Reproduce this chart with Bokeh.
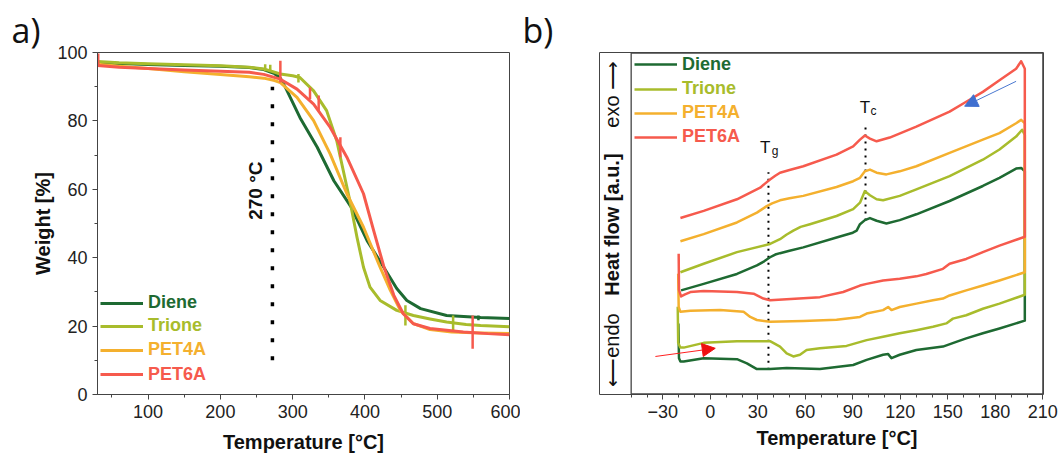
from math import pi
from bokeh.plotting import figure
from bokeh.models import (Range1d, FixedTicker, Label, Legend, LegendItem, Arrow, NormalHead, Title)
from bokeh.layouts import row
from bokeh.embed import file_html
from bokeh.resources import INLINE

SERIES = ["Diene", "Trione", "PET4A", "PET6A"]
COLORS = {"Diene": "#1e6a32", "Trione": "#a8bc2c", "PET4A": "#f4b02e", "PET6A": "#f65a4d"}

# ---------------- a) TGA : temperature [°C] / weight [%] ----------------
tga_diene_T = [30, 60, 100, 150, 200, 240, 260, 275, 283, 290, 311, 334, 357, 381, 403, 426, 444, 458, 477, 513, 560, 600]
tga_diene_W = [97.1, 96.8, 96.5, 96.2, 96.0, 95.6, 95.0, 93.8, 92.5, 89.8, 80.6, 72.3, 62.5, 54.8, 45.0, 37.2, 31.0, 27.5, 25.1, 23.1, 22.5, 22.2]
tga_trione_T = [30, 60, 100, 150, 200, 240, 260, 283, 300, 310, 329, 347, 361, 370, 380, 389, 398, 407, 421, 444, 467, 490, 513, 540, 560, 600]
tga_trione_W = [97.4, 97.0, 96.7, 96.4, 96.1, 95.7, 95.2, 93.7, 93.2, 92.7, 88.8, 83.0, 74.2, 65.5, 55.8, 46.0, 37.2, 31.4, 27.5, 24.6, 23.1, 22.1, 21.2, 20.5, 20.2, 19.8]
tga_pet4a_T = [30, 60, 100, 150, 200, 240, 260, 275, 283, 306, 329, 352, 375, 398, 421, 435, 449, 467, 490, 520, 560, 600]
tga_pet4a_W = [96.6, 96.0, 95.3, 94.4, 93.6, 92.9, 92.5, 91.8, 91.2, 86.9, 80.1, 70.3, 58.7, 48.9, 37.2, 30.5, 24.6, 20.7, 19.0, 18.3, 18.0, 17.8]
tga_pet6a_T = [30, 60, 100, 150, 200, 240, 260, 283, 306, 329, 352, 375, 398, 412, 426, 440, 453, 467, 490, 536, 570, 600]
tga_pet6a_W = [96.2, 95.7, 95.3, 94.9, 94.5, 94.2, 93.6, 92.2, 89.3, 84.9, 78.1, 69.4, 58.7, 48.0, 37.5, 29.0, 23.6, 20.7, 19.3, 18.3, 17.8, 17.5]

# short vertical artefacts on the TGA traces
spike_series = ["PET6A", "Trione", "Trione", "PET6A", "Trione", "PET6A", "PET6A", "PET6A", "Trione", "Trione", "PET6A", "Diene"]
spike_T = [31, 262, 269, 283, 308, 324, 336, 366, 456, 522, 549, 557]
spike_lo = [96.1, 94.5, 94.3, 91.2, 91.2, 86.4, 83.0, 69.4, 20.2, 18.8, 13.4, 21.7]
spike_hi = [99.7, 96.6, 96.4, 97.6, 93.7, 89.8, 87.4, 75.2, 26.1, 23.1, 23.1, 23.1]

onset_T = 272
onset_label = "270 °C"

# ---------------- b) DSC : temperature [°C] / heat flow [a.u.] ----------------
dsc_heat = {
    "Diene": ([-20.2, -19.8, -18.9, -16.8, -4.2, 16.8, 23.1, 29.4, 37.7, 48.2, 69.2, 90.2, 98.7, 109.1, 112.3, 114.4, 119.6, 130.1, 146.9, 155.3, 161.6, 172.1, 182.6, 198.6],
              [20.7, 10.5, 9.5, 9.5, 10.5, 10.2, 9.0, 7.3, 7.3, 7.6, 7.3, 8.5, 10.0, 11.5, 11.7, 10.5, 11.5, 12.9, 13.9, 15.3, 16.3, 17.8, 19.2, 21.5]),
    "Trione": ([-20.6, -20.3, -19.0, -16.8, -4.2, 16.8, 37.7, 44.0, 48.2, 52.4, 56.6, 60.8, 69.2, 86.0, 98.7, 109.1, 119.6, 130.1, 140.6, 149.0, 153.2, 161.6, 172.1, 182.6, 198.6],
               [25.6, 15.0, 13.6, 13.6, 15.0, 15.5, 15.5, 13.9, 11.9, 11.0, 11.5, 12.9, 13.4, 14.1, 15.8, 16.8, 17.8, 18.7, 19.7, 20.7, 22.1, 23.1, 25.0, 26.5, 29.1]),
    "PET4A": ([-20.3, -20.0, -18.9, -12.6, 6.2, 21.0, 25.2, 29.4, 37.7, 58.7, 79.7, 94.5, 98.7, 109.1, 112.3, 114.4, 119.6, 130.1, 140.6, 146.9, 151.1, 161.6, 172.1, 182.6, 198.6],
              [35.3, 25.5, 24.1, 24.4, 24.6, 24.1, 22.6, 21.7, 21.2, 21.4, 21.8, 22.6, 23.6, 24.6, 25.5, 24.6, 25.5, 26.5, 27.5, 28.0, 28.9, 30.4, 31.8, 33.3, 35.7]),
    "PET6A": ([-20.0, -19.8, -18.5, -16.0, -12.6, -4.2, 16.8, 27.3, 33.5, 37.7, 48.2, 69.2, 83.9, 94.5, 98.7, 109.1, 119.6, 130.1, 136.4, 146.9, 151.1, 161.6, 172.1, 182.6, 198.6],
              [41.1, 30.5, 28.6, 29.2, 29.9, 30.2, 29.9, 29.4, 28.0, 27.5, 27.8, 28.4, 29.9, 31.8, 32.3, 33.3, 33.8, 34.5, 35.2, 36.7, 38.2, 39.6, 41.6, 43.5, 46.1]),
}
dsc_cool = {
    "Diene": ([-18.5, -4.2, 16.8, 29.4, 34.0, 37.7, 41.0, 44.0, 50.0, 58.7, 79.7, 90.0, 92.4, 94.5, 97.6, 100.8, 105.0, 111.2, 119.6, 130.1, 151.1, 172.1, 182.6, 193.1, 196.3, 198.6],
              [30.4, 32.3, 35.2, 37.7, 38.9, 40.1, 40.9, 41.3, 42.0, 43.0, 45.9, 47.3, 47.9, 49.8, 51.0, 51.6, 50.8, 50.0, 51.0, 52.7, 56.6, 61.0, 63.4, 66.1, 66.3, 65.3]),
    "Trione": ([-18.9, -4.2, 16.8, 37.7, 44.0, 48.0, 52.4, 57.0, 62.9, 79.7, 90.2, 94.5, 97.6, 100.8, 105.0, 109.1, 119.6, 130.1, 151.1, 172.1, 182.6, 193.1, 196.9, 198.6],
               [35.7, 38.2, 41.6, 44.0, 45.4, 46.7, 47.9, 49.0, 49.8, 52.2, 54.2, 56.1, 59.5, 58.3, 57.1, 56.8, 58.1, 60.0, 63.9, 68.7, 71.7, 75.5, 77.5, 76.0]),
    "PET4A": ([-18.9, -4.2, 16.8, 29.4, 33.0, 35.6, 39.0, 44.0, 50.0, 58.7, 79.7, 90.2, 94.5, 97.6, 100.8, 105.0, 111.2, 119.6, 130.1, 151.1, 172.1, 182.6, 193.1, 196.3, 198.6],
              [44.8, 46.9, 50.3, 53.2, 54.3, 55.1, 55.9, 56.8, 57.4, 58.1, 60.7, 62.4, 63.4, 65.3, 65.8, 64.9, 64.4, 65.3, 66.8, 70.7, 74.6, 76.5, 79.4, 80.4, 79.4]),
    "PET6A": ([-18.9, -4.2, 16.8, 31.5, 34.5, 37.7, 41.0, 44.0, 50.0, 58.7, 79.7, 90.2, 94.5, 97.6, 100.8, 105.0, 113.3, 130.1, 151.1, 161.6, 172.1, 182.6, 193.1, 196.3, 198.6],
              [51.6, 53.7, 57.1, 60.5, 61.7, 62.9, 64.0, 64.9, 65.7, 66.8, 70.2, 72.6, 74.6, 75.8, 74.9, 74.1, 75.2, 78.4, 82.8, 85.7, 88.6, 92.0, 95.4, 97.6, 95.4]),
}
Tg = 36.7
Tc = 98.0

FONT = "Liberation Sans"
AXC = "#444444"


def style_axes(p):
    p.outline_line_color = AXC
    p.outline_line_width = 1
    p.xgrid.visible = False
    p.ygrid.visible = False
    for ax in p.axis:
        ax.axis_line_color = AXC
        ax.major_tick_line_color = AXC
        ax.minor_tick_line_color = AXC
        ax.major_tick_in = 0
        ax.major_tick_out = 5
        ax.minor_tick_in = 0
        ax.minor_tick_out = 3
        ax.major_label_text_font = FONT
        ax.major_label_text_font_size = "18px"
        ax.major_label_text_color = "#222222"
        ax.axis_label_text_font = FONT
        ax.axis_label_text_font_size = "20px"
        ax.axis_label_text_font_style = "bold"
        ax.axis_label_text_color = "#111111"


def panel_tag(p, text, offset):
    p.title.text = text
    p.title.align = "left"
    p.title.offset = offset
    p.title.standoff = 0
    p.title.text_font = "Open Sans"
    p.title.text_font_size = "34px"
    p.title.text_font_style = "normal"
    p.title.text_color = "#111111"


def add_legends(p, renderers, x0, ys):
    for name, r, y in zip(SERIES, renderers, ys):
        lg = Legend(items=[LegendItem(label=name, renderers=[r])], location=(x0, y),
                    padding=0, margin=0, spacing=0, border_line_color=None,
                    background_fill_alpha=0, glyph_width=43, glyph_height=20,
                    label_height=20, label_standoff=5, label_text_color=COLORS[name],
                    label_text_font=FONT, label_text_font_size="18px",
                    label_text_font_style="bold", label_text_baseline="middle")
        p.add_layout(lg)


# ---------------- panel a ----------------
pa = figure(width=520, height=457, output_backend="svg", toolbar_location=None,
            x_range=Range1d(30, 600), y_range=Range1d(0, 100),
            min_border_left=97, min_border_right=11, min_border_top=52, min_border_bottom=63)
style_axes(pa)
panel_tag(pa, "a)", -86)
pa.xaxis.axis_label = "Temperature [°C]"
pa.xaxis.axis_label_standoff = 10
pa.yaxis.axis_label = "Weight [%]"
pa.yaxis.axis_label_standoff = 0
pa.xaxis.ticker = FixedTicker(ticks=[100, 200, 300, 400, 500, 600], minor_ticks=[50, 150, 250, 350, 450, 550])
pa.yaxis.ticker = FixedTicker(ticks=[0, 20, 40, 60, 80, 100], minor_ticks=[10, 30, 50, 70, 90])

pa.line([onset_T, onset_T], [10, 90], line_color="black", line_width=3.5, line_dash="4 14")

tga = {"Diene": (tga_diene_T, tga_diene_W), "Trione": (tga_trione_T, tga_trione_W),
       "PET4A": (tga_pet4a_T, tga_pet4a_W), "PET6A": (tga_pet6a_T, tga_pet6a_W)}
rend_a = []
for name in SERIES:
    T, W = tga[name]
    rend_a.append(pa.line(T, W, line_color=COLORS[name], line_width=3, line_join="round"))
    idx = [i for i, s in enumerate(spike_series) if s == name]
    if idx:
        pa.segment([spike_T[i] for i in idx], [spike_lo[i] for i in idx],
                   [spike_T[i] for i in idx], [spike_hi[i] for i in idx],
                   line_color=COLORS[name], line_width=2.5)

pa.add_layout(Label(x=248, y=59.6, text=onset_label, angle=pi / 2, text_align="center",
                    text_baseline="middle", text_font=FONT, text_font_size="19px",
                    text_font_style="bold", text_color="#111111"))
add_legends(pa, rend_a, 3, [81, 57.6, 33.6, 9.3])

# ---------------- panel b ----------------
# frame extended to the left so the rotated y texts sit inside it
BX0, BX1, BY0, BY1 = -50, 210, 0, 100
pb = figure(width=539, height=457, output_backend="svg", toolbar_location=None,
            x_range=Range1d(-70, BX1 + 0.4), y_range=Range1d(BY0 - 0.15, BY1 + 0.15),
            min_border_left=79, min_border_right=16, min_border_top=52, min_border_bottom=63)
style_axes(pb)
pb.xaxis.axis_line_color = None
panel_tag(pb, "b)", -77)
pb.xaxis.ticker = FixedTicker(ticks=[-30, 0, 30, 60, 90, 120, 150, 180, 210],
                              minor_ticks=list(range(BX0, BX1 + 1, 10)))
pb.yaxis.ticker = FixedTicker(ticks=[], minor_ticks=[])
pb.yaxis.axis_line_color = None
pb.yaxis.major_tick_line_color = None
pb.yaxis.minor_tick_line_color = None
pb.add_layout(Title(text="Temperature [°C]", align="left", offset=157, text_font=FONT,
                    text_font_size="20px", text_font_style="bold", text_color="#111111",
                    standoff=8), "below")

pb.line([Tg, Tg], [7.1, 65.0], line_color="black", line_width=2, line_dash="2 5")
pb.line([Tc, Tc], [50.9, 78.9], line_color="black", line_width=2, line_dash="2 5")

rend_b = []
for name in SERIES:
    hT, hY = dsc_heat[name]
    cT, cY = dsc_cool[name]
    rend_b.append(pb.line(hT + cT[::-1], hY + cY[::-1], line_color=COLORS[name],
                          line_width=2.5, line_join="round"))

# plot box of panel b
pb.segment(x0=[BX0, BX0, BX1, BX0], y0=[BY0, BY1, BY0, BY0],
           x1=[BX0, BX1, BX1, BX1], y1=[BY1, BY1, BY1, BY0],
           line_color=AXC, line_width=1.3)

for txt, x, y, style in [("exo ⟶", -62.2, 87.9, "normal"),
                         ("Heat flow [a.u.]", -62.2, 49.7, "bold"),
                         ("⟵endo", -62.2, 12.9, "normal")]:
    pb.add_layout(Label(x=x, y=y, text=txt, angle=pi / 2, text_align="center",
                        text_baseline="middle", text_font=FONT, text_font_size="20px",
                        text_font_style=style, text_color="#111111"))

pb.add_layout(Label(x=34.6, y=72.3, text="T", text_align="center", text_baseline="alphabetic",
                    text_font=FONT, text_font_size="17px", text_color="#111111"))
pb.add_layout(Label(x=38.8, y=71.3, text="g", text_align="left", text_baseline="alphabetic",
                    text_font=FONT, text_font_size="12px", text_color="#111111"))
pb.add_layout(Label(x=97.6, y=83.9, text="T", text_align="center", text_baseline="alphabetic",
                    text_font=FONT, text_font_size="17px", text_color="#111111"))
pb.add_layout(Label(x=101.2, y=83.0, text="c", text_align="left", text_baseline="alphabetic",
                    text_font=FONT, text_font_size="12px", text_color="#111111"))

pb.add_layout(Arrow(x_start=-34.7, y_start=11.0, x_end=3.1, y_end=13.4, line_color="#ff2020",
                    line_width=1, end=NormalHead(size=13, fill_color="#ee1111", line_color="#ee1111")))
pb.add_layout(Arrow(x_start=193.1, y_start=91.7, x_end=160.6, y_end=84.4, line_color="#4a78d0",
                    line_width=1, end=NormalHead(size=13, fill_color="#3f6fd0", line_color="#3f6fd0")))

add_legends(pb, rend_b, 35, [319.3, 295, 271, 247])

layout = row(pa, pb)
open("out.html", "w").write(file_html(layout, INLINE))
